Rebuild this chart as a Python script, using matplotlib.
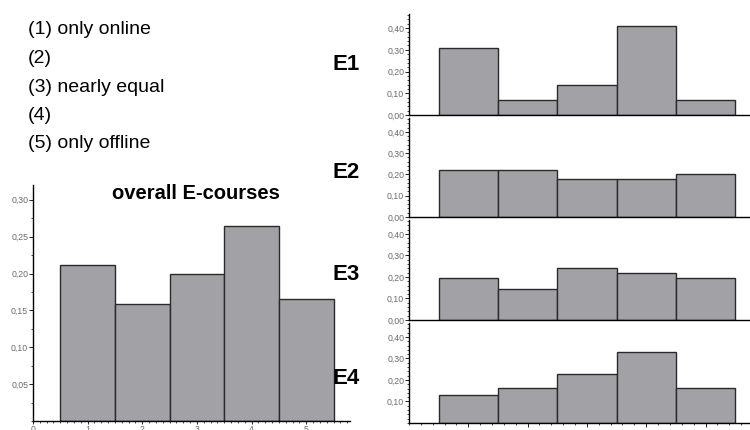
import numpy as np
import matplotlib.pyplot as plt
from matplotlib.ticker import MultipleLocator, FuncFormatter

plt.rcParams['font.family'] = ['Liberation Sans', 'DejaVu Sans']

categories = [1, 2, 3, 4, 5]
overall = [0.212, 0.159, 0.199, 0.265, 0.165]
courses = ['E1', 'E2', 'E3', 'E4']
course_values = {
    'E1': [0.307, 0.068, 0.140, 0.410, 0.068],
    'E2': [0.220, 0.220, 0.180, 0.180, 0.200],
    'E3': [0.196, 0.146, 0.243, 0.220, 0.196],
    'E4': [0.129, 0.162, 0.229, 0.330, 0.162],
}
legend_lines = ['(1) only online', '(2)', '(3) nearly equal', '(4)', '(5) only offline']

W, H = 750, 430
bar_color = '#a2a1a6'
edge_color = '#2a2a2a'
tick_color = '#6b6b6b'

comma = FuncFormatter(lambda v, p: f'{v:.2f}'.replace('.', ','))


def px_axes(fig, left, top, right, bottom):
    return fig.add_axes([left / W, (H - bottom) / H, (right - left) / W, (bottom - top) / H])


def style(ax):
    for s in ['top', 'right']:
        ax.spines[s].set_visible(False)
    ax.spines['left'].set_linewidth(1.0)
    ax.spines['bottom'].set_linewidth(1.0)
    ax.tick_params(axis='both', which='major', length=3, width=0.6, labelsize=6.3,
                   labelcolor=tick_color, pad=0.5)
    ax.tick_params(axis='both', which='minor', length=1.5, width=0.5)
    ax.yaxis.set_major_formatter(comma)


fig = plt.figure(figsize=(W / 100, H / 100), dpi=100)

# legend text
for i, line in enumerate(legend_lines):
    fig.text(28 / W, 1 - (30 + i * 28.5) / H, line, fontsize=14, va='center', ha='left')

# overall chart
ax = px_axes(fig, 33, 185, 350, 421)
ax.bar(categories, overall, width=1.0, color=bar_color, edgecolor=edge_color, linewidth=1.0)
ax.set_xlim(0, 5.8)
ax.set_ylim(0, 0.32)
ax.set_yticks([0.05, 0.10, 0.15, 0.20, 0.25, 0.30])
ax.yaxis.set_minor_locator(MultipleLocator(0.025))
ax.set_xticks([0, 1, 2, 3, 4, 5])
ax.xaxis.set_minor_locator(MultipleLocator(0.125))
style(ax)
ax.xaxis.set_major_formatter(FuncFormatter(lambda v, p: f'{int(v)}'))
ax.tick_params(axis='x', which='major', length=2.5, pad=0.3)
fig.text(196 / W, 1 - 199 / H, 'overall E-courses', fontsize=14.5, fontweight='bold',
         ha='center', va='baseline')

# course panels
panel_bounds = [(14, 115), (118, 217), (220, 320), (323, 423)]
label_y = [64, 172, 275, 378]
for name, (top, bottom), ly in zip(courses, panel_bounds, label_y):
    a = px_axes(fig, 409, top, 750, bottom)
    a.bar(categories, course_values[name], width=1.0, color=bar_color,
          edgecolor=edge_color, linewidth=1.0)
    a.set_xlim(0, 5.75)
    a.set_ylim(0, 0.465)
    if name == 'E4':
        a.set_yticks([0.10, 0.20, 0.30, 0.40])
    else:
        a.set_yticks([0.0, 0.10, 0.20, 0.30, 0.40])
    a.yaxis.set_minor_locator(MultipleLocator(0.02))
    a.set_xticks([1, 2, 3, 4, 5])
    a.xaxis.set_minor_locator(MultipleLocator(0.2))
    style(a)
    if name != 'E4':
        a.tick_params(axis='x', which='both', bottom=False, labelbottom=False)
    else:
        a.xaxis.set_major_formatter(FuncFormatter(lambda v, p: ''))
    fig.text(333 / W, 1 - ly / H, name, fontsize=16, fontweight='bold',
             ha='left', va='center')

fig.savefig('out.png', dpi=100)
